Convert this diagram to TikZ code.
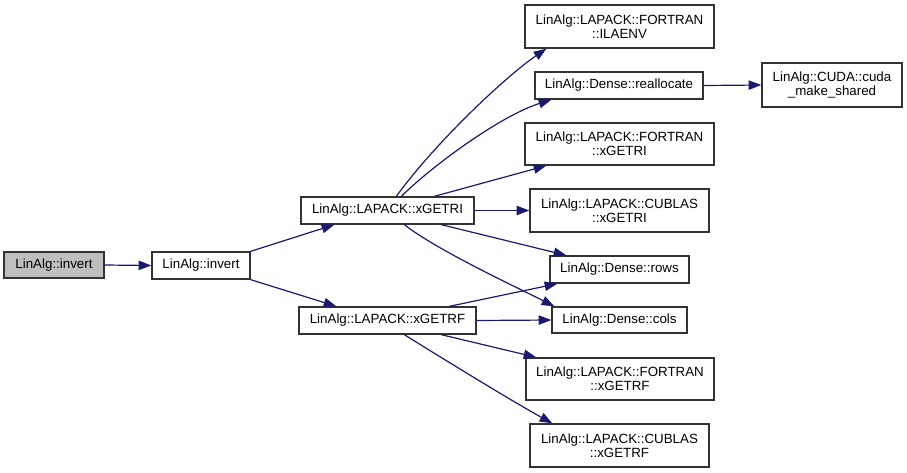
\documentclass[tikz,border=0pt]{standalone}
\usepackage{fontspec}
\setmainfont{Liberation Sans}
\usetikzlibrary{arrows.meta,calc}
\definecolor{edgec}{HTML}{191970}
\newcommand\mybox[7][]{\node[box,#1,minimum width={(#5-#3)*0.75pt},minimum height={(#6-#4)*0.75pt}] (#2) at ({(#3+#5)/2},{(#4+#6)/2}) {#7};}
\begin{document}
\begin{tikzpicture}[x=0.75pt,y=-0.75pt,
  box/.style={draw=black!80, line width=1pt, fill=white, inner sep=0pt, align=center, font=\fontsize{10}{10.8}\selectfont},
  root/.style={fill=black!25},
  edge/.style={draw=edgec, line width=0.9pt, -{Triangle[length=9.5pt,width=7pt]}, fill=none}]
\useasboundingbox (0,0) rectangle (907,472);
\mybox[root]{inv0}{4}{252}{104}{278}{LinAlg::invert}
\mybox{inv}{152}{252}{250}{279}{LinAlg::invert}
\mybox{ri}{301}{197}{474}{224}{LinAlg::LAPACK::xGETRI}
\mybox{rf}{299}{307}{476}{334}{LinAlg::LAPACK::xGETRF}
\mybox{ilaenv}{525}{5}{714}{48}{LinAlg::LAPACK::FORTRAN\\::ILAENV}
\mybox{realloc}{535}{72}{703}{99}{LinAlg::Dense::reallocate}
\mybox{cuda}{762}{63}{902}{107}{LinAlg::CUDA::cuda\\\_make\_shared}
\mybox{fri}{525}{123}{714}{165}{LinAlg::LAPACK::FORTRAN\\::xGETRI}
\mybox{cri}{530}{189}{709}{232}{LinAlg::LAPACK::CUBLAS\\::xGETRI}
\mybox{rows}{550}{256}{689}{283}{LinAlg::Dense::rows}
\mybox{cols}{552}{307}{687}{333}{LinAlg::Dense::cols}
\mybox{frf}{526}{358}{714}{400}{LinAlg::LAPACK::FORTRAN\\::xGETRF}
\mybox{crf}{530}{424}{709}{467}{LinAlg::LAPACK::CUBLAS\\::xGETRF}

\draw[edge] (inv0.east) -- (inv.west);
\draw[edge] (inv.north east) -- ($(ri.south west)+(34,0)$);
\draw[edge] (inv.south east) -- ($(rf.north west)+(38,0)$);
\draw[edge] ($(ri.north west)+(96,0)$) .. controls (435,143) and (505,77) .. ($(ilaenv.south west)+(22,0)$);
\draw[edge] ($(ri.north west)+(101,0)$) .. controls (432,166) and (500,116) .. ($(realloc.south west)+(17,0)$);
\draw[edge] ($(ri.north west)+(134,0)$) -- ($(fri.south west)+(22,0)$);
\draw[edge] (ri.east) -- (cri.west);
\draw[edge] ($(ri.south west)+(141,0)$) -- ($(rows.north west)+(17,0)$);
\draw[edge] ($(ri.south west)+(104,0)$) .. controls (437,250) and (510,284) .. ($(cols.north west)+(3,0)$);
\draw[edge] ($(rf.north west)+(151,0)$) -- ($(rows.south west)+(8,0)$);
\draw[edge] (rf.east) -- (cols.west);
\draw[edge] ($(rf.south west)+(143,0)$) -- ($(frf.north west)+(11,0)$);
\draw[edge] ($(rf.south west)+(106,0)$) .. controls (437,355) and (510,400) .. ($(crf.north west)+(23,0)$);
\draw[edge] (realloc.east) -- (cuda.west);
\end{tikzpicture}
\end{document}
